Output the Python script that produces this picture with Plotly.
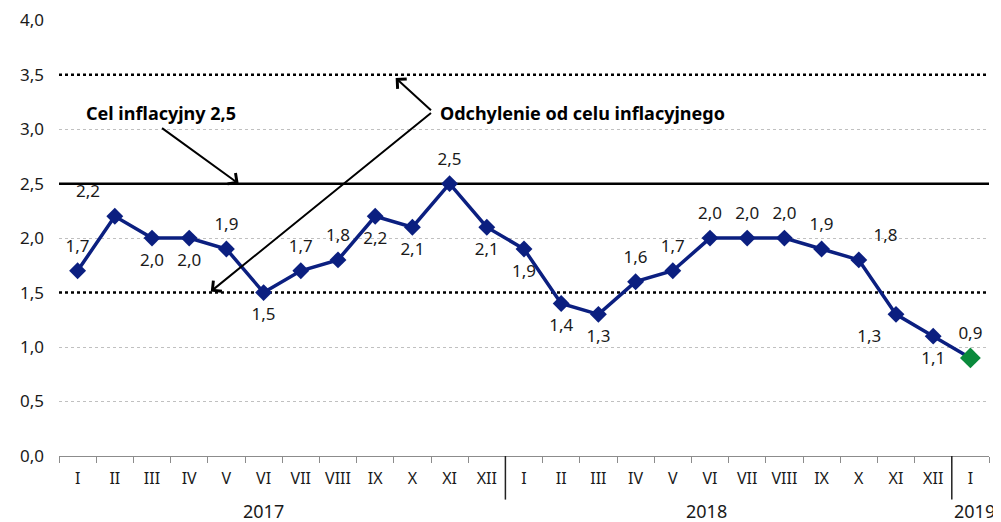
import plotly.graph_objects as go

months = ["I", "II", "III", "IV", "V", "VI", "VII", "VIII", "IX", "X", "XI", "XII",
          "I", "II", "III", "IV", "V", "VI", "VII", "VIII", "IX", "X", "XI", "XII", "I"]
values = [1.7, 2.2, 2.0, 2.0, 1.9, 1.5, 1.7, 1.8, 2.2, 2.1, 2.5, 2.1,
          1.9, 1.4, 1.3, 1.6, 1.7, 2.0, 2.0, 2.0, 1.9, 1.8, 1.3, 1.1, 0.9]
label_pos = ["top center", "top left", "bottom center", "bottom center", "top center",
             "bottom center", "top center", "top center", "bottom center", "bottom center",
             "top center", "bottom center", "bottom center", "bottom center", "bottom center",
             "top center", "top center", "top center", "top center", "top center",
             "top center", "top right", "bottom left", "bottom center", "top center"]
years = ["2017", "2018", "2019"]
year_pos = [5.0, 16.9, 24.1]
year_breaks = [11.5, 23.5]
target = 2.5
band = [1.5, 3.5]
y_ticks = [0, 0.5, 1.0, 1.5, 2.0, 2.5, 3.0, 3.5, 4.0]
y_grid = [0.5, 1.0, 2.0, 3.0, 4.0]

FONT = "Noto Sans"
xs = list(range(len(values)))
fmt = lambda v: f"{v:.1f}".replace(".", ",")

fig = go.Figure()
fig.add_trace(go.Scatter(
    x=xs[:-1], y=values[:-1], mode="lines+markers",
    line=dict(color="#0b1f80", width=3.5),
    marker=dict(symbol="diamond", size=13, color="#0b1f80"),
    hoverinfo="skip", showlegend=False))
fig.add_trace(go.Scatter(
    x=xs[-2:], y=values[-2:], mode="lines",
    line=dict(color="#0b1f80", width=3.5), hoverinfo="skip", showlegend=False))
fig.add_trace(go.Scatter(
    x=[xs[-1]], y=[values[-1]], mode="markers",
    marker=dict(symbol="diamond", size=16, color="#0a8a3c"),
    hoverinfo="skip", showlegend=False))
fig.add_trace(go.Scatter(
    x=xs, y=values, mode="text+markers", text=[fmt(v) for v in values],
    marker=dict(size=22, opacity=0), cliponaxis=False,
    textposition=label_pos, textfont=dict(family=FONT, size=17, color="#1a1a1a"),
    hoverinfo="skip", showlegend=False))

# reference lines
fig.add_shape(type="line", xref="paper", x0=0, x1=1, yref="y", y0=target, y1=target,
              line=dict(color="black", width=2.5), layer="below")
for b in band:
    fig.add_shape(type="line", xref="paper", x0=0, x1=1, yref="y", y0=b, y1=b,
                  line=dict(color="black", width=2.5, dash="dot"), layer="below")

# year separators
for xb in year_breaks:
    fig.add_shape(type="line", xref="x", x0=xb, x1=xb, yref="paper", y0=0, y1=-0.1,
                  line=dict(color="#222", width=1.5))
for yr, xp in zip(years, year_pos):
    fig.add_annotation(x=xp, xref="x", y=-0.126, yref="paper", text=yr, showarrow=False,
                       yanchor="middle", font=dict(family=FONT, size=18, color="#1a1a1a"))

# annotations
fig.add_annotation(x=0.16, y=3.15, xref="x", yref="y", text="<b>Cel inflacyjny 2,5</b>",
                   showarrow=False, xanchor="left", font=dict(family=FONT, size=18, color="black"))
fig.add_annotation(x=4.33, y=2.5, ax=2.23, ay=3.02, axref="x", ayref="y", xref="x", yref="y",
                   text="", showarrow=True, arrowhead=4, arrowsize=1.3, arrowwidth=2, arrowcolor="black")
fig.add_annotation(x=9.68, y=3.15, xref="x", yref="y",
                   text="<b>Odchylenie od celu inflacyjnego</b>",
                   showarrow=False, xanchor="left", font=dict(family=FONT, size=18, color="black"))
for hx, hy in [(8.55, 3.47), (3.58, 1.51)]:
    fig.add_annotation(x=hx, y=hy, ax=9.54, ay=3.16, axref="x", ayref="y", xref="x", yref="y",
                       text="", showarrow=True, arrowhead=4, arrowsize=1.3, arrowwidth=2,
                       arrowcolor="black")

fig.update_layout(
    width=993, height=514, margin=dict(l=51, r=12, t=12, b=66),
    plot_bgcolor="white", paper_bgcolor="white",
    font=dict(family=FONT, size=17, color="#1a1a1a"),
    xaxis=dict(range=[-0.5, len(values) - 0.5], tickvals=xs, ticktext=months,
               ticks="", showgrid=False, zeroline=False, showline=True, automargin=False,
               linecolor="#8c8c8c", linewidth=1, ticklabelstandoff=8,
               tickfont=dict(family=FONT, size=16, color="#1a1a1a"),
               minor=dict(tickvals=[i - 0.5 for i in range(len(values) + 1)],
                          ticks="outside", ticklen=6, tickcolor="#8c8c8c", showgrid=False)),
    yaxis=dict(range=[0, 4.002], tickvals=y_ticks, ticktext=[fmt(v) for v in y_ticks],
               showgrid=False, zeroline=False, showline=False, ticks="",
               ticklabelstandoff=14, automargin=False,
               tickfont=dict(family=FONT, size=17, color="#1a1a1a"),
               minor=dict(tickvals=y_grid, showgrid=True, gridcolor="#c0c0c0",
                          griddash="dot", gridwidth=1, ticks="")),
)
fig.write_html("out.html")
